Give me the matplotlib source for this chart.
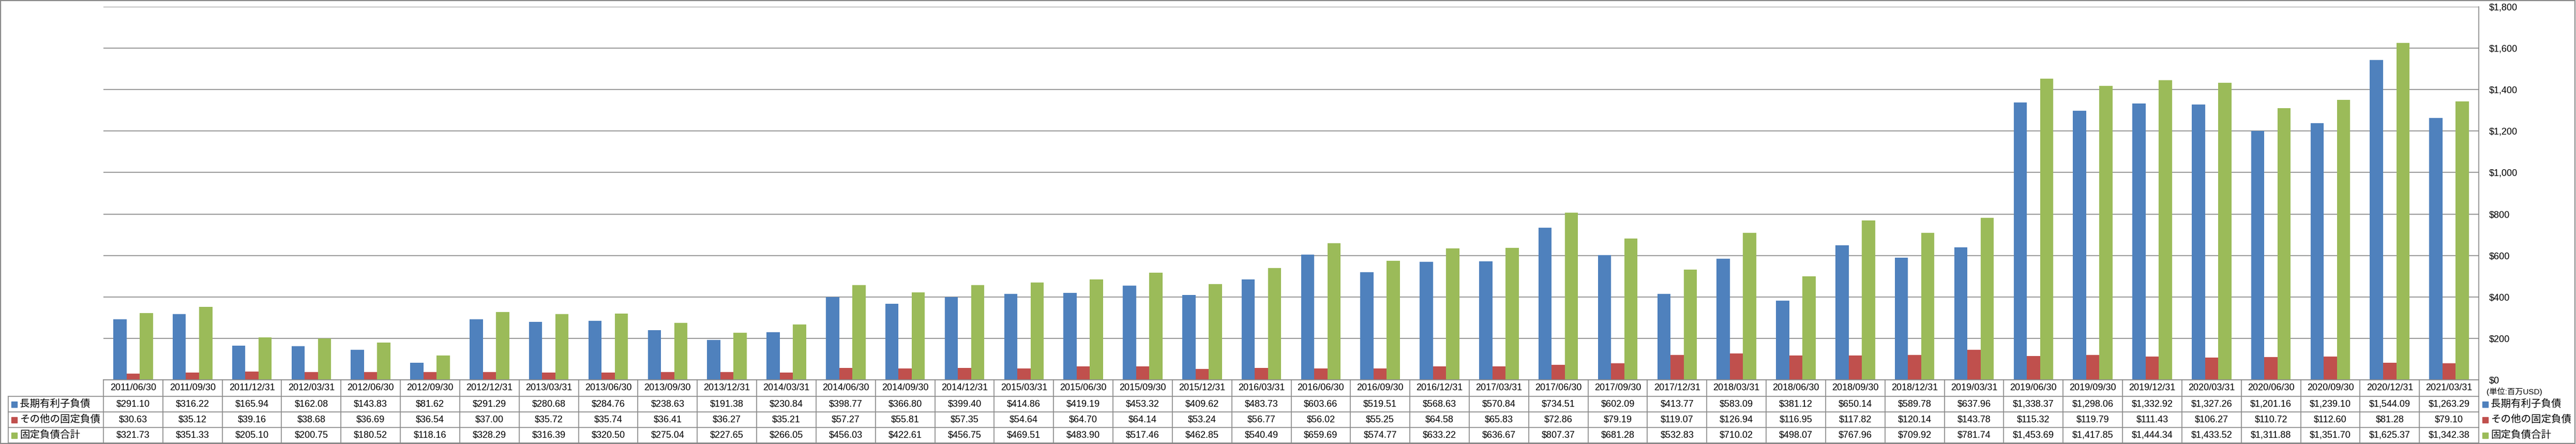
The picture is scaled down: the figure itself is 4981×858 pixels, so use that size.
import matplotlib
matplotlib.use("Agg")
import matplotlib.pyplot as plt
from matplotlib.patches import Rectangle
from matplotlib.ticker import FuncFormatter

plt.rcParams['font.family'] = ['Liberation Sans', 'Noto Sans CJK JP']

dates = ["2011/06/30", "2011/09/30", "2011/12/31", "2012/03/31", "2012/06/30", "2012/09/30",
         "2012/12/31", "2013/03/31", "2013/06/30", "2013/09/30", "2013/12/31", "2014/03/31",
         "2014/06/30", "2014/09/30", "2014/12/31", "2015/03/31", "2015/06/30", "2015/09/30",
         "2015/12/31", "2016/03/31", "2016/06/30", "2016/09/30", "2016/12/31", "2017/03/31",
         "2017/06/30", "2017/09/30", "2017/12/31", "2018/03/31", "2018/06/30", "2018/09/30",
         "2018/12/31", "2019/03/31", "2019/06/30", "2019/09/30", "2019/12/31", "2020/03/31",
         "2020/06/30", "2020/09/30", "2020/12/31", "2021/03/31"]

long_debt = [291.10, 316.22, 165.94, 162.08, 143.83, 81.62, 291.29, 280.68, 284.76, 238.63,
             191.38, 230.84, 398.77, 366.80, 399.40, 414.86, 419.19, 453.32, 409.62, 483.73,
             603.66, 519.51, 568.63, 570.84, 734.51, 602.09, 413.77, 583.09, 381.12, 650.14,
             589.78, 637.96, 1338.37, 1298.06, 1332.92, 1327.26, 1201.16, 1239.10, 1544.09, 1263.29]

other_fixed = [30.63, 35.12, 39.16, 38.68, 36.69, 36.54, 37.00, 35.72, 35.74, 36.41,
               36.27, 35.21, 57.27, 55.81, 57.35, 54.64, 64.70, 64.14, 53.24, 56.77,
               56.02, 55.25, 64.58, 65.83, 72.86, 79.19, 119.07, 126.94, 116.95, 117.82,
               120.14, 143.78, 115.32, 119.79, 111.43, 106.27, 110.72, 112.60, 81.28, 79.10]

fixed_total = [321.73, 351.33, 205.10, 200.75, 180.52, 118.16, 328.29, 316.39, 320.50, 275.04,
               227.65, 266.05, 456.03, 422.61, 456.75, 469.51, 483.90, 517.46, 462.85, 540.49,
               659.69, 574.77, 633.22, 636.67, 807.37, 681.28, 532.83, 710.02, 498.07, 767.96,
               709.92, 781.74, 1453.69, 1417.85, 1444.34, 1433.52, 1311.88, 1351.70, 1625.37, 1342.38]

series_names = ["長期有利子負債", "その他の固定負債", "固定負債合計"]
series_values = [long_debt, other_fixed, fixed_total]
series_colors = ["#4F81BD", "#C0504D", "#9BBB59"]
yticks = [0, 200, 400, 600, 800, 1000, 1200, 1400, 1600, 1800]
unit_label = "(単位:百万USD)"

W, H = 4981, 858
fig = plt.figure(figsize=(W / 100, H / 100), dpi=100)
fig.patch.set_facecolor("white")

def fx(px):
    return px / W

def fy(py):
    return 1 - py / H

GRAY = "#888888"
PL, PR, PT, PB = 200, 4793, 13, 734
TB = 856
n = len(dates)

ax = fig.add_axes([fx(PL), fy(PB), (PR - PL) / W, (PB - PT) / H])
bw = 1 / 4.5
xs = list(range(n))
for k, (vals, col) in enumerate(zip(series_values, series_colors)):
    ax.bar([x + (k - 1) * bw for x in xs], vals, width=bw, color=col, zorder=3)
ax.set_xlim(-0.5, n - 0.5)
ax.set_ylim(0, 1800)
ax.set_yticks(yticks)
ax.yaxis.set_major_formatter(FuncFormatter(lambda v, p: f"${v:,.0f}"))
ax.yaxis.tick_right()
ax.tick_params(axis='y', length=0, pad=14, labelsize=13, labelcolor="#000000")
ax.set_xticks([])
ax.grid(axis='y', color=GRAY, linewidth=1.2, zorder=0)
for s in ["left", "top", "bottom"]:
    ax.spines[s].set_visible(False)
ax.spines["right"].set_color(GRAY)
ax.spines["right"].set_linewidth(1.2)

# data table
tab = fig.add_axes([fx(PL), fy(TB), (PR - PL) / W, (TB - PB) / H])
tab.set_xlim(-0.5, n - 0.5)
tab.set_ylim(TB, PB)
tab.axis("off")
xleft = -0.5 - (PL - 16) * n / (PR - PL)
row_lines = [766, 796, 826]
tab.plot([-0.5, n - 0.5], [PB, PB], color=GRAY, lw=1.2, clip_on=False)
for yl in row_lines + [TB]:
    tab.plot([xleft, n - 0.5], [yl, yl], color=GRAY, lw=1.2, clip_on=False)
for i in range(n + 1):
    tab.plot([i - 0.5, i - 0.5], [PB, TB], color=GRAY, lw=1.2, clip_on=False)
tab.plot([xleft, xleft], [766, TB], color=GRAY, lw=1.2, clip_on=False)

header_y = 750
row_y = [781, 811, 841]
for i, d in enumerate(dates):
    tab.text(i, header_y, d, ha='center', va='center', fontsize=13, clip_on=False)
for vals, yy in zip(series_values, row_y):
    for i, v in enumerate(vals):
        tab.text(i, yy, f"${v:,.2f}", ha='center', va='center', fontsize=13, clip_on=False)

# row labels with keys
for name, col, yy in zip(series_names, series_colors, row_y):
    fig.add_artist(Rectangle((fx(22), fy(yy + 5.5)), 11 / W, 11 / H,
                             transform=fig.transFigure, color=col))
    fig.text(fx(38), fy(yy), name, ha='left', va='center', fontsize=14)

# right legend
fig.text(fx(4808), fy(757), unit_label, ha='left', va='center', fontsize=11)
for name, col, yy in zip(series_names, series_colors, row_y):
    fig.add_artist(Rectangle((fx(4800), fy(yy + 5.5)), 11 / W, 11 / H,
                             transform=fig.transFigure, color=col))
    fig.text(fx(4816), fy(yy), name, ha='left', va='center', fontsize=14)

# outer border
fig.add_artist(Rectangle((fx(1), fy(857)), (4978) / W, (856) / H, transform=fig.transFigure,
                         fill=False, edgecolor=GRAY, linewidth=1.5))

fig.savefig("out.png", dpi=100, facecolor="white")
